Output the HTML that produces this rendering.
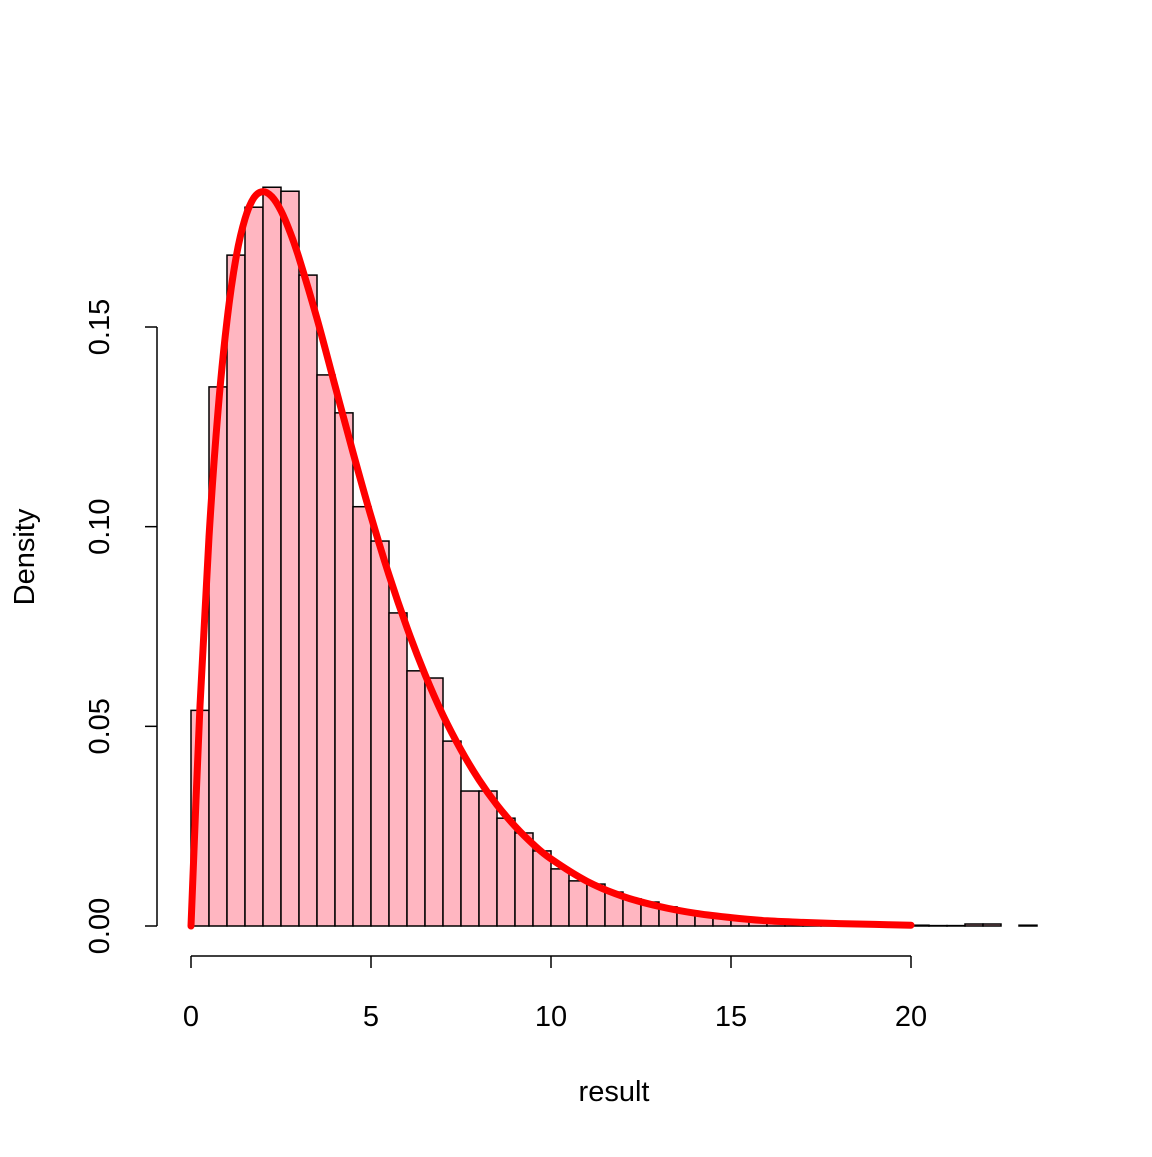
<!DOCTYPE html>
<html><head><meta charset="utf-8"><style>
html,body{margin:0;padding:0;background:#fff;}
text{font-family:"Liberation Sans",Arial,sans-serif;fill:#000;}
</style></head><body>
<svg id="chart" width="1152" height="1152" viewBox="0 0 1152 1152" xmlns="http://www.w3.org/2000/svg">
<g id="bars"></g>
<path id="curve" fill="none" stroke="#ff0000" stroke-width="7" stroke-linecap="round" stroke-linejoin="round"/>
<g id="axes"></g>
<text x="614" y="1101" font-size="29" text-anchor="middle">result</text>
<text x="0" y="0" font-size="29" text-anchor="middle" transform="translate(34,557) rotate(-90)">Density</text>
</svg>
<script>
const binStart = 0, binWidth = 0.5;
const densities = [0.054,0.135,0.168,0.180,0.185,0.184,0.163,0.138,0.1285,0.105,0.0964,0.0784,0.0639,0.0621,0.0463,0.0338,0.0338,0.027,0.0233,0.0188,0.0143,0.0113,0.0105,0.0085,0.0068,0.006,0.0048,0.0038,0.003,0.0025,0.002,0.0015,0.0012,0.0009,0.0007,0.0005,0.0004,0.0003,0.0002,0.0002,0.0002,0.0001,0.0001,0.0005,0.0005,0,0.0002];
const curveX = [0,0.25,0.5,0.75,1,1.25,1.5,1.75,2,2.25,2.5,2.75,3,3.5,4,4.5,5,5.5,6,6.5,7,7.5,8,8.5,9,9.5,10,11,12,13,14,15,16,17,18,19,20];
const curveY = [0,0.0552,0.0974,0.1289,0.1516,0.1673,0.1771,0.1824,0.1839,0.1826,0.1791,0.1738,0.1673,0.1521,0.1353,0.1186,0.1026,0.0879,0.0747,0.0630,0.0528,0.0441,0.0366,0.0303,0.0250,0.0205,0.0168,0.0112,0.0074,0.0049,0.0032,0.0021,0.0013,0.0009,0.0006,0.0004,0.0002];
const xTicks = [0,5,10,15,20];
const yTicks = [0,0.05,0.10,0.15];
const yTickLabels = ["0.00","0.05","0.10","0.15"];
const xs = v => 191 + v*36;
const ys = v => 926 - v*3993.3;
const NS = "http://www.w3.org/2000/svg";
function mk(tag, attrs, parent){const e=document.createElementNS(NS,tag);for(const k in attrs)e.setAttribute(k,attrs[k]);parent.appendChild(e);return e;}
const bars = document.getElementById('bars');
densities.forEach((d,i)=>{
  const x0=xs(binStart+i*binWidth), x1=xs(binStart+(i+1)*binWidth);
  const r=mk('rect',{x:x0,y:ys(d),width:x1-x0,height:ys(0)-ys(d),fill:'#ffb6c1',stroke:'#000','stroke-width':1.5},bars);
  
  
});
const pts = curveX.map((x,i)=>[xs(x), ys(curveY[i])]);
let d = 'M'+pts[0][0].toFixed(1)+','+pts[0][1].toFixed(1);
for(let i=0;i<pts.length-1;i++){
  const p0=pts[Math.max(0,i-1)], p1=pts[i], p2=pts[i+1], p3=pts[Math.min(pts.length-1,i+2)];
  const c1=[p1[0]+(p2[0]-p0[0])/6, p1[1]+(p2[1]-p0[1])/6];
  const c2=[p2[0]-(p3[0]-p1[0])/6, p2[1]-(p3[1]-p1[1])/6];
  d+=` C${c1[0].toFixed(1)},${c1[1].toFixed(1)} ${c2[0].toFixed(1)},${c2[1].toFixed(1)} ${p2[0].toFixed(1)},${p2[1].toFixed(1)}`;
}
document.getElementById('curve').setAttribute('d', d);
const ax = document.getElementById('axes');
const xl=mk('line',{x1:xs(xTicks[0]),x2:xs(xTicks[xTicks.length-1]),y1:956,y2:956,stroke:'#000','stroke-width':1.5},ax);


xTicks.forEach(t=>{
  mk('line',{x1:xs(t),x2:xs(t),y1:956,y2:968,stroke:'#000','stroke-width':1.5},ax);
  const tx=mk('text',{x:xs(t),y:1026,'font-size':29,'text-anchor':'middle'},ax);
  tx.textContent=t;
  
  
});
const yl=mk('line',{x1:157,x2:157,y1:ys(yTicks[0]),y2:ys(yTicks[yTicks.length-1]),stroke:'#000','stroke-width':1.5},ax);


yTicks.forEach((t,i)=>{
  mk('line',{x1:145,x2:157,y1:ys(t),y2:ys(t),stroke:'#000','stroke-width':1.5},ax);
  const tx=mk('text',{x:0,y:0,'font-size':29,'text-anchor':'middle',transform:`translate(109,${ys(t)}) rotate(-90)`},ax);
  tx.textContent=yTickLabels[i];
  
  
});
</script>
</body></html>
